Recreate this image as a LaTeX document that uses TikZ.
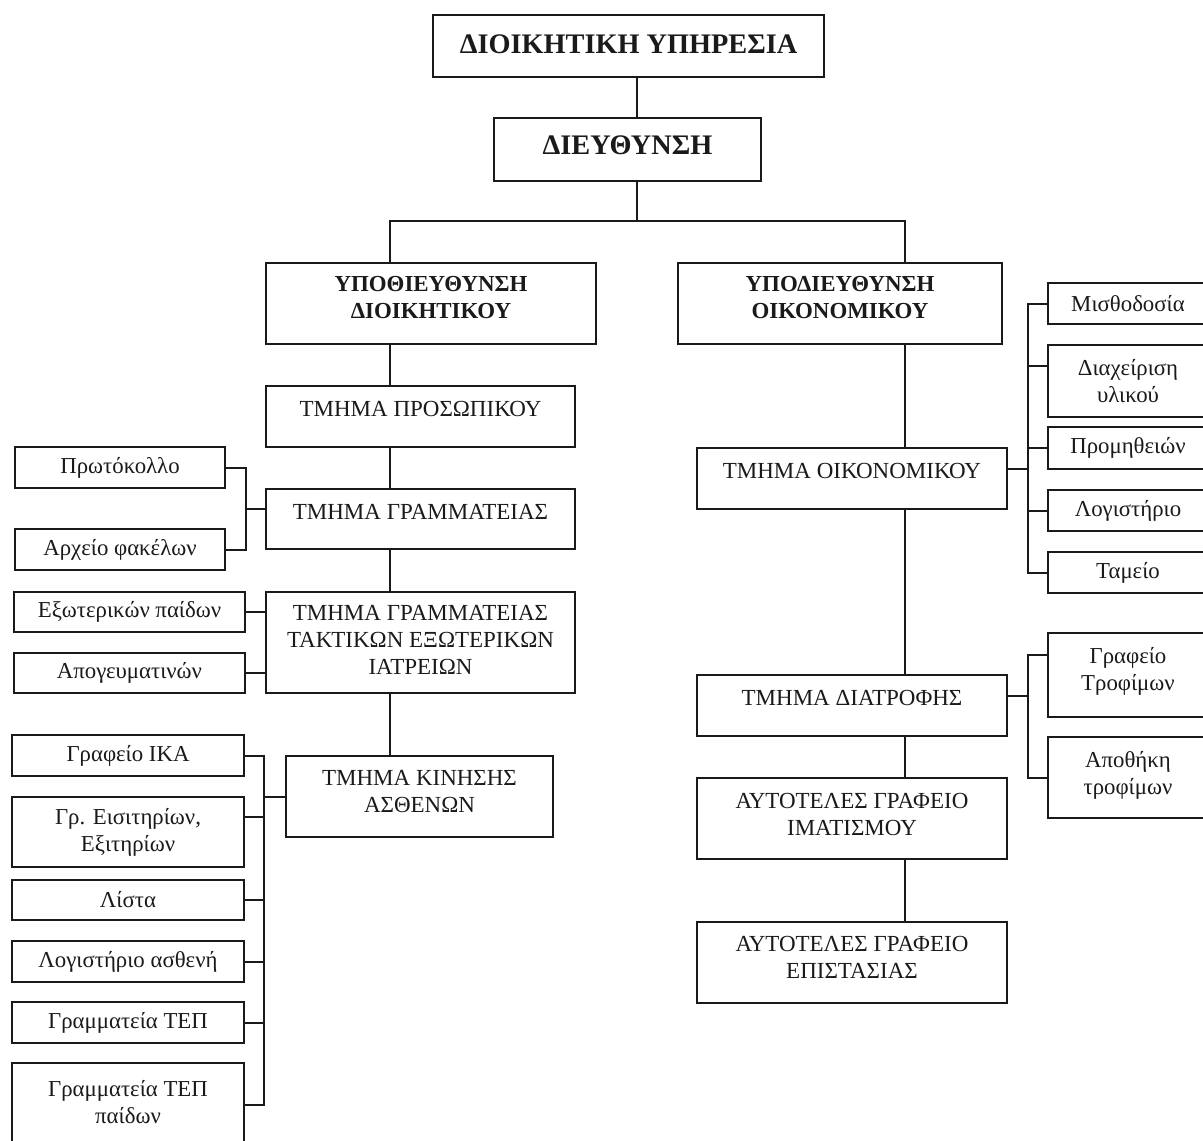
\documentclass[tikz,border=0pt]{standalone}
\usepackage{fontspec}
\setmainfont{Liberation Serif}
\begin{document}
% organisation chart: boxes are drawn as empty frames, captions are placed inside them
\newcommand\orgbox[8]{%
  \node[frame, minimum width={(#5-#3)*1pt}, minimum height={(#6-#4)*1pt}]
    (#2) at ({(#3+#5)/2},{(#4+#6)/2}) {};
  \node[#1] (#2-t) at ({(#3+#5)/2},{(#4+#6)/2+#7}) {#8};}
\definecolor{ink}{HTML}{1A1A1A}
\begin{tikzpicture}[x=1pt,y=-1pt,
  frame/.style={draw=ink, line width=2pt, rectangle, inner sep=0pt, outer sep=0pt},
  wire/.style={draw=ink, line width=2pt},
  lbl/.style={align=center, inner sep=0pt, text=ink, font=\fontsize{23}{27}\selectfont},
  leaf/.style={lbl, font=\fontsize{22.8}{27}\selectfont},
  head/.style={lbl, font=\bfseries\fontsize{28.3}{33}\selectfont},
  sub/.style={lbl, font=\bfseries\fontsize{22.9}{27}\selectfont}]
\useasboundingbox (0,0) rectangle (1203,1141);
\fill[white] (0,0) rectangle (1203,1141);
\clip (0,0) rectangle (1203,1141);

% top of the hierarchy
\orgbox{head}{top}{433}{15}{824}{77}{-2}{ΔΙΟΙΚΗΤΙΚΗ ΥΠΗΡΕΣΙΑ}
\orgbox{head}{dir}{494}{118}{761}{181}{-4}{ΔΙΕΥΘΥΝΣΗ}
\orgbox{sub}{sa}{266}{263}{596}{344}{-6}{ΥΠΟΘΙΕΥΘΥΝΣΗ\\ΔΙΟΙΚΗΤΙΚΟΥ}
\orgbox{sub}{sb}{678}{263}{1002}{344}{-6}{ΥΠΟΔΙΕΥΘΥΝΣΗ\\ΟΙΚΟΝΟΜΙΚΟΥ}

% administrative branch
\orgbox{lbl}{pros}{266}{386}{575}{447}{-8}{ΤΜΗΜΑ ΠΡΟΣΩΠΙΚΟΥ}
\orgbox{lbl}{gram}{266}{489}{575}{549}{-7}{ΤΜΗΜΑ ΓΡΑΜΜΑΤΕΙΑΣ}
\orgbox{lbl}{takt}{266}{592}{575}{693}{-2.5}{ΤΜΗΜΑ ΓΡΑΜΜΑΤΕΙΑΣ\\ΤΑΚΤΙΚΩΝ ΕΞΩΤΕΡΙΚΩΝ\\ΙΑΤΡΕΙΩΝ}
\orgbox{lbl}{kin}{286}{756}{553}{837}{-5}{ΤΜΗΜΑ ΚΙΝΗΣΗΣ\\ΑΣΘΕΝΩΝ}

\orgbox{leaf}{proto}{15}{447}{225}{488}{0}{Πρωτόκολλο}
\orgbox{leaf}{arch}{15}{529}{225}{570}{0}{Αρχείο φακέλων}
\orgbox{leaf}{exo}{14}{592}{245}{632}{0}{Εξωτερικών παίδων}
\orgbox{leaf}{apog}{14}{653}{245}{693}{0}{Απογευματινών}
\orgbox{leaf}{ika}{12}{735}{244}{776}{0}{Γραφείο ΙΚΑ}
\orgbox{leaf}{eisit}{12}{797}{244}{867}{0}{Γρ. Εισιτηρίων,\\Εξιτηρίων}
\orgbox{leaf}{lista}{12}{880}{244}{920}{0}{Λίστα}
\orgbox{leaf}{logas}{12}{941}{244}{982}{0}{Λογιστήριο ασθενή}
\orgbox{leaf}{tep}{12}{1002}{244}{1043}{0}{Γραμματεία ΤΕΠ}
\orgbox{leaf}{tepp}{12}{1063}{244}{1146}{-2}{Γραμματεία ΤΕΠ\\παίδων}

% financial branch
\orgbox{lbl}{oik}{697}{448}{1007}{509}{-7.5}{ΤΜΗΜΑ ΟΙΚΟΝΟΜΙΚΟΥ}
\orgbox{lbl}{diat}{697}{675}{1007}{736}{-7.5}{ΤΜΗΜΑ ΔΙΑΤΡΟΦΗΣ}
\orgbox{lbl}{imat}{697}{778}{1007}{859}{-4.5}{ΑΥΤΟΤΕΛΕΣ ΓΡΑΦΕΙΟ\\ΙΜΑΤΙΣΜΟΥ}
\orgbox{lbl}{epis}{697}{922}{1007}{1003}{-5}{ΑΥΤΟΤΕΛΕΣ ΓΡΑΦΕΙΟ\\ΕΠΙΣΤΑΣΙΑΣ}

\orgbox{leaf}{misth}{1048}{283}{1208}{324}{0}{Μισθοδοσία}
\orgbox{leaf}{diax}{1048}{345}{1208}{417}{0}{Διαχείριση\\υλικού}
\orgbox{leaf}{prom}{1048}{427}{1208}{469}{0}{Προμηθειών}
\orgbox{leaf}{logi}{1048}{490}{1208}{531}{0}{Λογιστήριο}
\orgbox{leaf}{tam}{1048}{552}{1208}{593}{0}{Ταμείο}
\orgbox{leaf}{trof}{1048}{633}{1208}{717}{-4}{Γραφείο\\Τροφίμων}
\orgbox{leaf}{apoth}{1048}{737}{1208}{818}{-2}{Αποθήκη\\τροφίμων}

% trunk lines and bus positions
\coordinate (split) at (637,221);
\coordinate (lx) at (390,0);
\coordinate (rx) at (905,0);
\coordinate (g1) at (246,509);
\coordinate (g3) at (264,797);
\coordinate (r1) at (1028,469);
\coordinate (r2) at (1028,696);

\draw[wire] (split |- top.south) -- (split |- dir.north);
\draw[wire] (split |- dir.south) -- (split);
\draw[wire] (lx |- sa.north) |- (split) -| (rx |- sb.north);

\draw[wire] (lx |- sa.south) -- (lx |- pros.north);
\draw[wire] (lx |- pros.south) -- (lx |- gram.north);
\draw[wire] (lx |- gram.south) -- (lx |- takt.north);
\draw[wire] (lx |- takt.south) -- (lx |- kin.north);

\draw[wire] (rx |- sb.south) -- (rx |- oik.north);
\draw[wire] (rx |- oik.south) -- (rx |- diat.north);
\draw[wire] (rx |- diat.south) -- (rx |- imat.north);
\draw[wire] (rx |- imat.south) -- (rx |- epis.north);

% side groups, left
\draw[wire] (proto.east) -| (g1 |- arch.east) -- (arch.east);
\draw[wire] (g1) -- (g1 -| gram.west);
\draw[wire] (exo.east) -- (exo.east -| takt.west);
\draw[wire] (apog.east) -- (apog.east -| takt.west);

\draw[wire] (g3) -- (g3 -| kin.west);
\draw[wire] (ika.east) -| (g3 |- tepp.east) -- (tepp.east);
\draw[wire] ([yshift=15pt]eisit.east) coordinate (e1) -- (e1 -| g3);
\draw[wire] (lista.east) -- (lista.east -| g3);
\draw[wire] (logas.east) -- (logas.east -| g3);
\draw[wire] (tep.east) -- (tep.east -| g3);

% side groups, right
\draw[wire] (r1 -| oik.east) -- (r1);
\draw[wire] (misth.west) -| (r1 |- tam.west) -- (tam.west);
\draw[wire] ([yshift=15pt]diax.west) coordinate (d1) -- (d1 -| r1);
\draw[wire] (prom.west) -- (prom.west -| r1);
\draw[wire] (logi.west) -- (logi.west -| r1);

\draw[wire] (r2 -| diat.east) -- (r2);
\draw[wire] ([yshift=20pt]trof.west) coordinate (t1) -| (r2 |- apoth.west) -- (apoth.west);
\end{tikzpicture}
\end{document}
